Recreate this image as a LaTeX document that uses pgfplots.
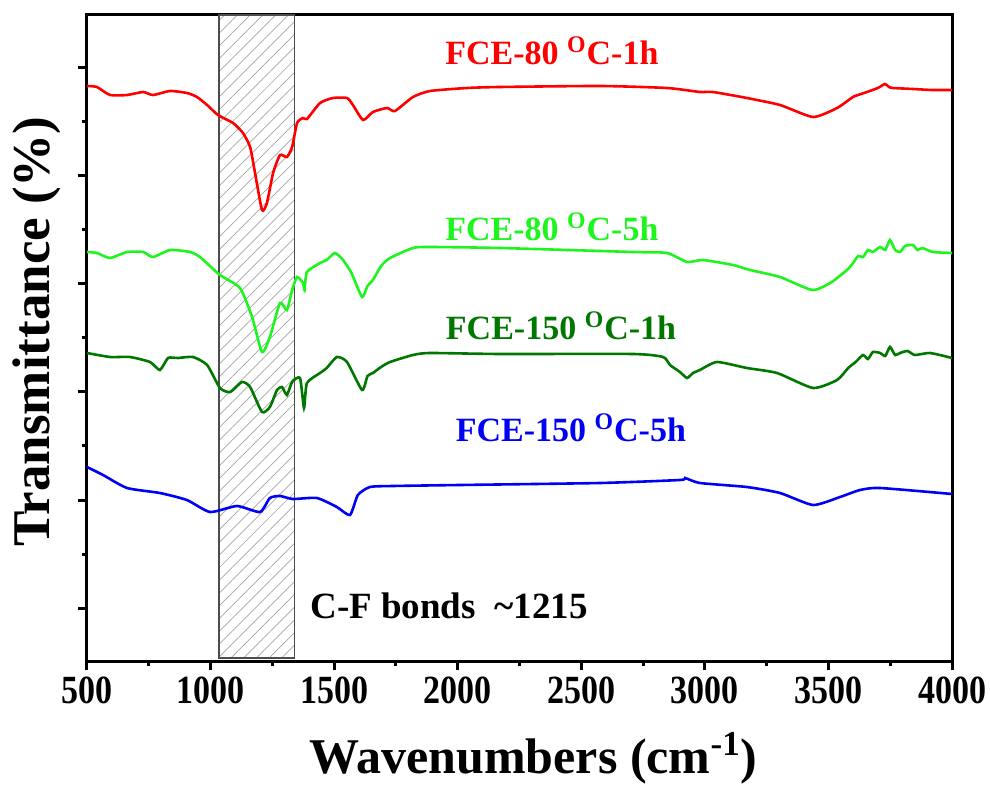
\documentclass[border=0pt]{standalone}
\usepackage{fontspec}
\setmainfont{Liberation Serif}
\newfontfamily\tickfont[FakeStretch=0.85]{Liberation Serif}
\usepackage{pgfplots}
\pgfplotsset{compat=1.18}
\usetikzlibrary{patterns.meta}
\definecolor{cred}{RGB}{255,0,0}
\definecolor{clgreen}{RGB}{30,245,30}
\definecolor{cdgreen}{RGB}{0,120,0}
\definecolor{cblue}{RGB}{0,0,245}
\begin{document}
\begin{tikzpicture}
\useasboundingbox (-43.5pt,-63pt) rectangle (451.5pt,330.5pt);
\begin{axis}[
  at={(0,0)}, anchor=south west, scale only axis,
  width=432.5pt, height=323pt,
  xmin=500, xmax=4000, ymin=-53, ymax=593,
  xtick={500,1000,...,4000}, minor x tick num=1,
  ytick={0,108,...,540}, minor y tick num=1, yticklabels={},
  tick align=outside, xtick pos=bottom, ytick pos=left,
  major tick length=4.5pt, minor tick length=2.5pt,
  axis line style={line width=1.5pt},
  every tick/.style={black, line width=1.5pt},
  /pgf/number format/assume math mode=true,
  /pgf/number format/1000 sep={},
  xticklabel style={font=\tickfont\bfseries\fontsize{20}{20}\selectfont},
  xlabel={\bfseries Wavenumbers (cm\textsuperscript{-1})},
  xlabel style={font=\fontsize{25}{25}\selectfont, at={(axis description cs:0.516,-0.15)}, anchor=center},
  ylabel={\bfseries Transmittance (\%)},
  ylabel style={font=\fontsize{26.5}{26.5}\selectfont, at={(axis description cs:-0.058,0.51)}, anchor=center},
  clip=false,
]
% hatched region
\addplot[draw=gray!60!black, line width=0.6pt, pattern={Lines[angle=45,distance=4.5pt,line width=0.35pt]}, pattern color=gray!70]
  coordinates {(1034,-50) (1338,-50) (1338,593) (1034,593)} -- cycle;

% FCE-80 1h (red)
\addplot[cred, line width=1.3pt, smooth, tension=0.35] coordinates {
(500,522)(540,521)(593,513)(662,513)(727,516)(767,513)(836,517)(905,515)(945,511)(986,503)(1030,493)(1091,485)(1131,475)(1160,461)(1180,435)(1208,398)(1228,405)(1253,435)(1281,453)(1309,451)(1330,461)(1350,485)(1374,490)(1390,489)(1443,505)(1495,510)(1552,510)(1576,503)(1617,488)(1657,496)(1714,500)(1746,497)(1819,511)(1888,517)(2038,520)(2171,521)(2576,522)(2847,520)(2980,516)(3033,516)(3170,510)(3304,503)(3438,491)(3535,500)(3599,511)(3620,513)(3656,516)(3700,520)(3729,524)(3745,521)(3761,520)(3842,519)(3920,518)(4000,518)};

% FCE-80 5h (light green)
\addplot[clgreen, line width=1.3pt, smooth, tension=0.35] coordinates {
(500,356)(540,355)(593,350)(662,356)(727,356)(767,351)(836,358)(917,356)(957,351)(1038,333)(1119,320)(1168,291)(1208,256)(1240,271)(1281,305)(1309,298)(1330,318)(1350,331)(1374,325)(1380,318)(1390,336)(1443,345)(1470,348)(1503,355)(1536,348)(1570,335)(1613,311)(1635,322)(1657,328)(1690,342)(1726,350)(1819,360)(1888,361)(2171,360)(2709,356)(2847,355)(2928,346)(2992,348)(3114,343)(3183,338)(3304,331)(3434,318)(3507,325)(3575,338)(3600,345)(3620,352)(3640,351)(3660,358)(3680,356)(3709,361)(3730,358)(3749,368)(3770,358)(3790,356)(3810,362)(3842,363)(3860,358)(3880,360)(3923,356)(4000,355)};

% FCE-150 1h (dark green)
\addplot[cdgreen, line width=1.3pt, smooth, tension=0.35] coordinates {
(500,255)(593,251)(674,251)(755,246)(795,238)(828,250)(868,250)(929,251)(986,243)(1038,220)(1079,216)(1127,226)(1160,221)(1208,196)(1240,201)(1269,218)(1289,221)(1309,213)(1330,226)(1362,230)(1378,200)(1390,225)(1443,235)(1470,240)(1511,251)(1552,246)(1613,218)(1635,232)(1657,235)(1690,241)(1726,246)(1819,253)(1888,255)(2171,254)(2709,254)(2831,251)(2859,243)(2899,236)(2928,230)(2952,235)(2980,238)(3049,246)(3170,240)(3292,235)(3438,220)(3535,228)(3580,240)(3610,246)(3640,253)(3660,249)(3680,256)(3709,255)(3730,252)(3749,261)(3770,253)(3790,255)(3820,257)(3850,253)(3911,255)(4000,250)};

% FCE-150 5h (blue)
\addplot[cblue, line width=1.3pt, smooth, tension=0.35] coordinates {
(500,141)(565,133)(662,120)(795,115)(904,108)(998,96)(1107,102)(1200,96)(1240,110)(1281,112)(1333,109)(1430,110)(1511,101)(1564,93)(1596,113)(1645,121)(1738,122)(2009,123)(2576,125)(2899,128)(2920,130)(2980,125)(3170,121)(3304,115)(3438,103)(3547,111)(3628,118)(3709,120)(4000,114)};

\node[cred, anchor=base, font=\bfseries\fontsize{17}{17}\selectfont] at (axis cs:2381,543) {FCE-80 \textsuperscript{O}C-1h};
\node[clgreen, anchor=base, font=\bfseries\fontsize{17}{17}\selectfont] at (axis cs:2381,367) {FCE-80 \textsuperscript{O}C-5h};
\node[cdgreen, anchor=base, font=\bfseries\fontsize{17}{17}\selectfont] at (axis cs:2418,268) {FCE-150 \textsuperscript{O}C-1h};
\node[cblue, anchor=base, font=\bfseries\fontsize{17}{17}\selectfont] at (axis cs:2458,166) {FCE-150 \textsuperscript{O}C-5h};
\node[black, anchor=base, font=\bfseries\fontsize{18.5}{18.5}\selectfont] at (axis cs:1965,-10) {C-F bonds\ \ \textasciitilde1215};
\end{axis}
\end{tikzpicture}
\end{document}
